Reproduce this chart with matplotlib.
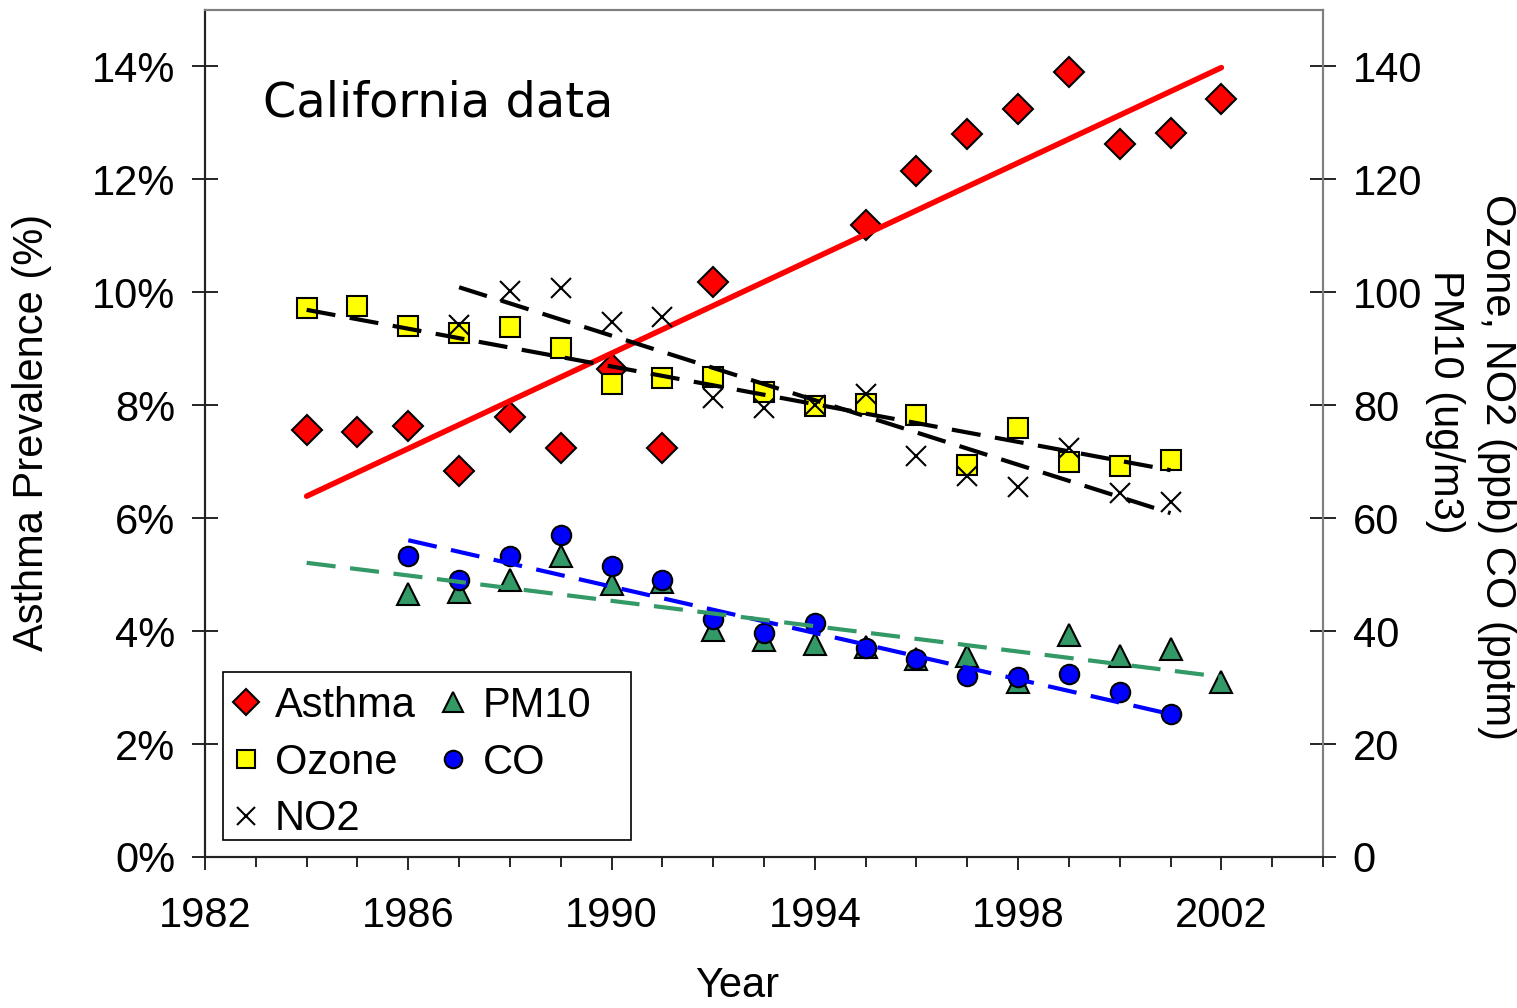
import matplotlib
matplotlib.use("Agg")
import matplotlib.pyplot as plt
from matplotlib.patches import Rectangle
from matplotlib.ticker import MultipleLocator, FuncFormatter

plt.rcParams['font.family'] = ['Liberation Sans', 'DejaVu Sans']

# ---------------- data ----------------
asthma_years = [1984, 1985, 1986, 1987, 1988, 1989, 1990, 1991, 1992,
                1995, 1996, 1997, 1998, 1999, 2000, 2001, 2002]
asthma_pct = [7.57, 7.52, 7.63, 6.83, 7.80, 7.24, 8.65, 7.24, 10.19,
              11.20, 12.14, 12.80, 13.24, 13.91, 12.62, 12.83, 13.42]
asthma_trend_x = [1984, 2002]
asthma_trend_y = [6.39, 13.98]

ozone_years = list(range(1984, 2002))
ozone_ppb = [97.2, 97.6, 94.0, 92.8, 93.9, 90.1, 83.8, 84.8, 85.0,
             82.3, 79.9, 80.2, 78.3, 69.4, 76.0, 69.9, 69.2, 70.3]
ozone_trend_x = [1984, 2001]
ozone_trend_y = [96.9, 68.5]

no2_years = list(range(1987, 2002))
no2_ppb = [94.2, 100.2, 100.8, 94.7, 95.6, 81.3, 79.5, 80.0, 82.0,
           71.0, 67.5, 65.5, 72.4, 64.5, 62.9]
no2_trend_x = [1987, 2001]
no2_trend_y = [100.9, 60.9]

co_years = list(range(1986, 2002))
co_pptm = [53.3, 49.1, 53.3, 57.0, 51.5, 49.1, 42.1, 39.7, 41.4,
           37.0, 35.1, 32.1, 31.9, 32.4, 29.2, 25.3]
co_trend_x = [1986, 2001]
co_trend_y = [56.1, 25.3]

pm10_years = list(range(1986, 2003))
pm10_ugm3 = [46.6, 46.9, 49.1, 53.3, 48.3, 48.7, 40.2, 38.4, 37.7,
             37.2, 35.1, 35.6, 31.0, 39.3, 35.6, 36.8, 31.0]
pm10_trend_x = [1984, 2002]
pm10_trend_y = [52.1, 31.9]

x_ticks = [1982, 1986, 1990, 1994, 1998, 2002]
legend_labels = ['Asthma', 'Ozone', 'NO2', 'PM10', 'CO']

# ---------------- figure ----------------
fig = plt.figure(figsize=(15.17, 10.08), dpi=100)
ax = fig.add_axes([205/1517, 151/1008, 1118/1517, 847/1008])
ax2 = ax.twinx()

FS = 30
RED, YEL, GRN, BLU = '#FF0000', '#FFFF00', '#339966', '#0000FF'

# asthma (left axis)
h_as, = ax.plot(asthma_years, asthma_pct, linestyle='none', marker='D', ms=15,
                mfc=RED, mec='black', mew=1.5, zorder=3)
ax.plot(asthma_trend_x, asthma_trend_y, color=RED, lw=4, solid_capstyle='round', zorder=4)

# pollutants (right axis)
dash = (0, (7, 3.5))
h_pm, = ax2.plot(pm10_years, pm10_ugm3, linestyle='none', marker='^', ms=16,
                 mfc=GRN, mec='black', mew=1.5, zorder=3)
h_co, = ax2.plot(co_years, co_pptm, linestyle='none', marker='o', ms=14,
                 mfc=BLU, mec='black', mew=1.5, zorder=3)
h_oz, = ax2.plot(ozone_years, ozone_ppb, linestyle='none', marker='s', ms=15,
                 mfc=YEL, mec='black', mew=1.5, zorder=3)
h_no, = ax2.plot(no2_years, no2_ppb, linestyle='none', marker='x', ms=15,
                 mec='black', mew=1.5, zorder=4)
ax2.plot(ozone_trend_x, ozone_trend_y, color='black', lw=3, ls=dash, zorder=5)
ax2.plot(no2_trend_x, no2_trend_y, color='black', lw=3, ls=dash, zorder=5)
ax2.plot(co_trend_x, co_trend_y, color=BLU, lw=3, ls=dash, zorder=5)
ax2.plot(pm10_trend_x, pm10_trend_y, color=GRN, lw=3, ls=dash, zorder=5)

# limits / ticks
ax.set_xlim(1982, 2004)
ax.set_ylim(0, 15)
ax2.set_ylim(0, 150)
ax.set_xticks(x_ticks)
ax.xaxis.set_minor_locator(MultipleLocator(1))
ax.set_yticks([0, 2, 4, 6, 8, 10, 12, 14])
ax.yaxis.set_major_formatter(FuncFormatter(lambda v, p: f"{int(v)}%"))
ax2.set_yticks([0, 20, 40, 60, 80, 100, 120, 140])

ax.tick_params(axis='x', which='major', direction='out', length=9, width=1.2,
               labelsize=FS, pad=19)
ax.tick_params(axis='x', which='minor', direction='out', length=7, width=1.2)
ax.tick_params(axis='y', which='major', direction='inout', length=19, width=1.2,
               labelsize=FS, pad=12)
ax2.tick_params(axis='y', which='major', direction='inout', length=19, width=1.2,
                labelsize=FS, pad=12)

for a in (ax, ax2):
    a.spines['left'].set_color('#222222')
    a.spines['bottom'].set_color('#222222')
    a.spines['top'].set_color('#808080')
    a.spines['right'].set_color('#808080')
    for s in a.spines.values():
        s.set_linewidth(1.5)

ax2.set_zorder(ax.get_zorder() + 1)
ax2.patch.set_visible(False)

# texts
fig.text(263/1517, 1 - 103/1008, 'California data',
         fontsize=34.5, family=['DejaVu Sans'], ha='left', va='center')
fig.text(32/1517, 1 - 432/1008, 'Asthma Prevalence (%)', rotation=90,
         fontsize=FS, ha='center', va='center')
fig.text(737/1517, 1 - 986/1008, 'Year', fontsize=FS, ha='center', va='center')
fig.text(1497/1517, 1 - 467/1008, 'Ozone, NO2 (ppb) CO (pptm)', rotation=-90,
         fontsize=FS, ha='center', va='center')
fig.text(1445/1517, 1 - 402/1008, 'PM10 (ug/m3)', rotation=-90,
         fontsize=FS, ha='center', va='center')

# legend box (frame drawn separately to match the original's proportions)
ax2.add_patch(Rectangle((18/1118, 17/847), 408/1118, 168/847,
                        transform=ax2.transAxes, facecolor='white',
                        edgecolor='black', linewidth=1.2, zorder=6))
leg = ax2.legend([h_as, h_oz, h_no, h_pm, h_co], legend_labels,
                 ncol=2, loc='lower left', bbox_to_anchor=(0.0161, 0.0135),
                 borderaxespad=0, fontsize=FS, frameon=False, markerscale=0.9,
                 handlelength=0.8, handletextpad=0.3, labelspacing=0.4,
                 columnspacing=0.5, borderpad=0.15)
leg.set_zorder(7)

fig.savefig('out.png', dpi=100)
